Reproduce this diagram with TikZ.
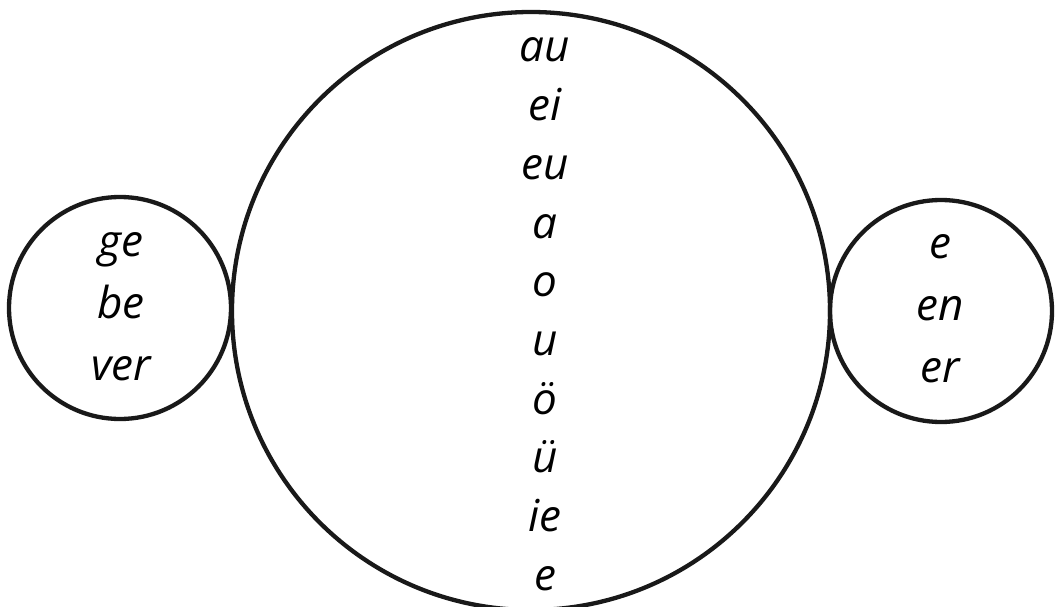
\documentclass[tikz,border=0pt]{standalone}
\usepackage{fontspec}
\setmainfont{Open Sans}
\begin{document}
\begin{tikzpicture}[x=1pt,y=-1pt,
  ring/.style={draw=black!90,line width=4.3pt},
  syl/.style={anchor=base,inner sep=0pt,font=\fontsize{44}{52}\selectfont\itshape}]
\useasboundingbox (0,0) rectangle (1055,607);
\node[ring,circle,minimum size=222pt,inner sep=0pt] (L) at (120,308) {};
\node[ring,circle,minimum size=598pt,inner sep=0pt] (M) at (531,311) {};
\node[ring,circle,minimum size=222pt,inner sep=0pt] (R) at (941,311) {};
\node[syl] (l1) at (121,256) {ge};
\node[syl] (l2) at (121,318) {be};
\node[syl] (l3) at (121,380) {ver};
\node[syl] (r1) at (940,258) {e};
\node[syl] (r2) at (940,320) {en};
\node[syl] (r3) at (940,382) {er};
\node[syl] (m1) at (545,62) {au};
\node[syl] (m2) at (545,120.7) {ei};
\node[syl] (m3) at (545,179.3) {eu};
\node[syl] (m4) at (545,238) {a};
\node[syl] (m5) at (545,296.7) {o};
\node[syl] (m6) at (545,355.3) {u};
\node[syl] (m7) at (545,414) {ö};
\node[syl] (m8) at (545,472.7) {ü};
\node[syl] (m9) at (545,531.3) {ie};
\node[syl] (m10) at (545,590) {e};
\end{tikzpicture}
\end{document}
